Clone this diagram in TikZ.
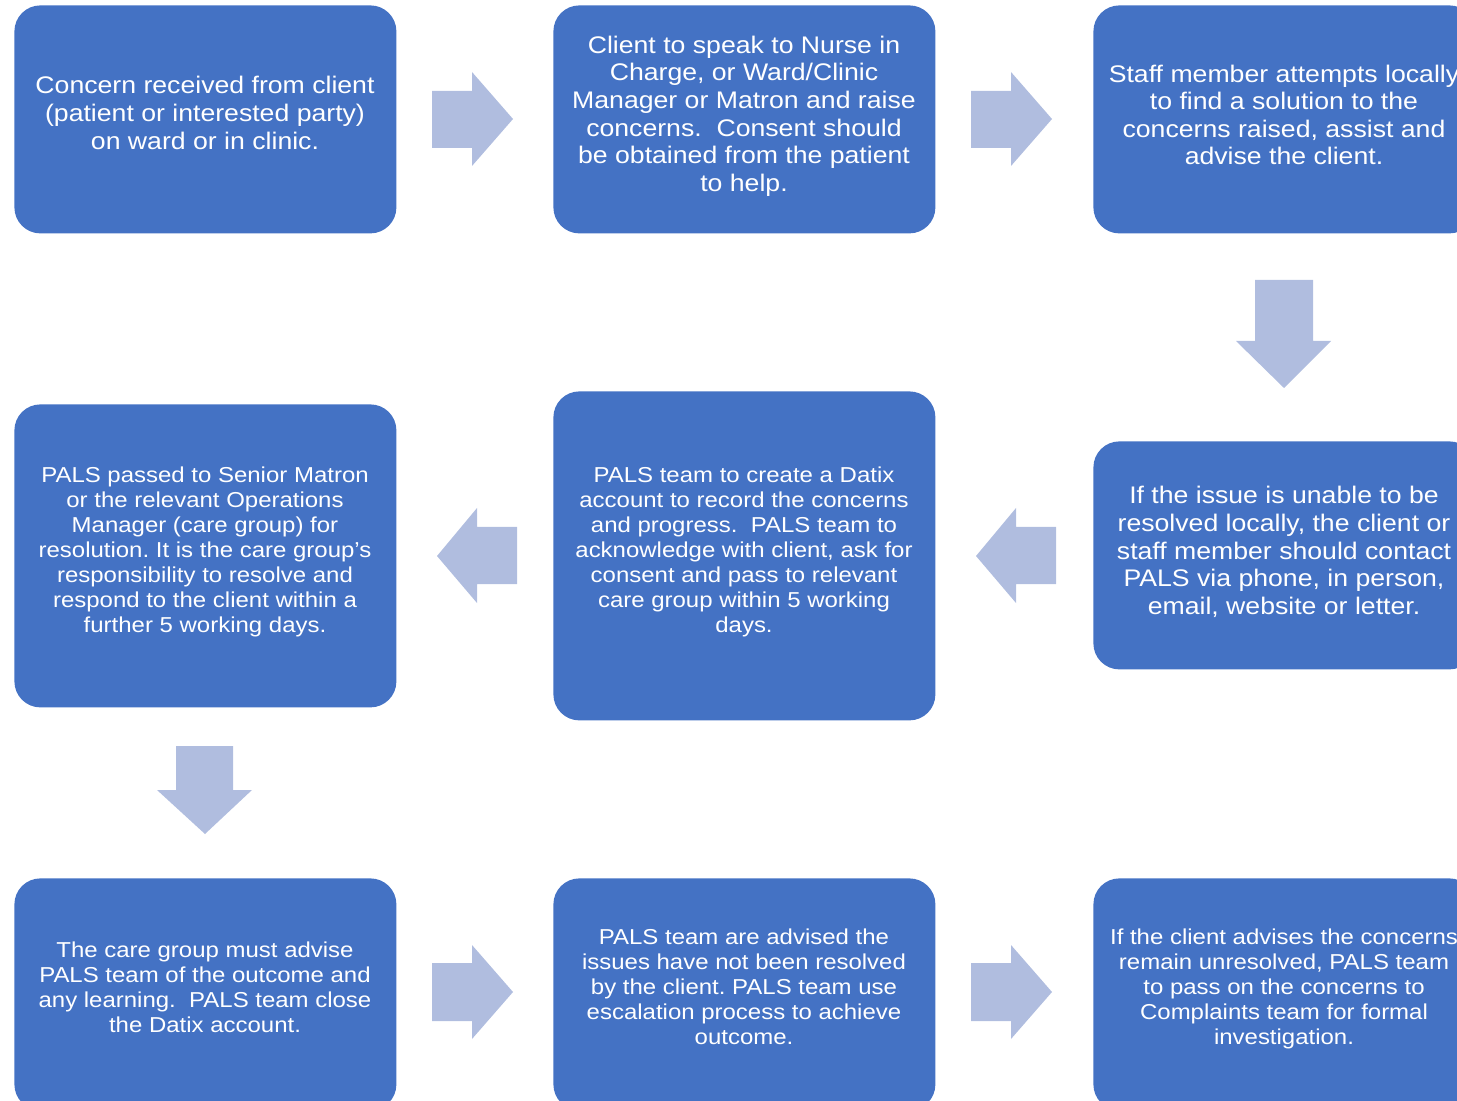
\documentclass[tikz,border=0pt]{standalone}
\usepackage{fontspec}
\setmainfont{Liberation Sans}[FakeStretch=1.11]
\definecolor{boxc}{RGB}{68,114,196}
\definecolor{arrowc}{RGB}{176,189,223}
\tikzset{
  stepbox/.style={fill=boxc, draw=none, rounded corners=13pt, minimum width=191pt, inner sep=0pt, anchor=north west},
  bigtext/.style={text=white, align=center, font=\frenchspacing\fontsize{12pt}{13.8pt}\selectfont, inner sep=0pt},
  smalltext/.style={text=white, align=center, font=\frenchspacing\fontsize{10.8pt}{12.45pt}\selectfont, inner sep=0pt},
  blockarrow/.style={fill=arrowc, draw=none}
}
\begin{document}
\begin{tikzpicture}[x=0.5pt,y=-0.5pt]
\useasboundingbox (0,0) rectangle (1457,1101);
% boxes
\node[stepbox, minimum height=114pt] (b1) at (14,5) {};
\node[stepbox, minimum height=114pt] (b2) at (553,5) {};
\node[stepbox, minimum height=114pt] (b3) at (1093,5) {};
\node[stepbox, minimum height=151.5pt] (b4) at (14,404) {};
\node[stepbox, minimum height=164.5pt] (b5) at (553,391) {};
\node[stepbox, minimum height=114pt] (b6) at (1093,441) {};
\node[stepbox, minimum height=116pt] (b7) at (14,878) {};
\node[stepbox, minimum height=116pt] (b8) at (553,878) {};
\node[stepbox, minimum height=116pt] (b9) at (1093,878) {};
% texts
\node[bigtext] (t1) at (205,113) {Concern received from client\\(patient or interested party)\\on ward or in clinic.};
\node[bigtext] (t2) at (744,116) {Client to speak to Nurse in\\Charge, or Ward/Clinic\\Manager or Matron and raise\\concerns.~ Consent should\\be obtained from the patient\\to help.};
\node[bigtext] (t3) at (1284,115) {Staff member attempts locally\\to find a solution to the\\concerns raised, assist and\\advise the client.};
\node[bigtext] (t6) at (1284,552) {If the issue is unable to be\\resolved locally, the client or\\staff member should contact\\PALS via phone, in person,\\email, website or letter.};
\node[smalltext] (t5) at (744,552) {PALS team to create a Datix\\account to record the concerns\\and progress.~ PALS team to\\acknowledge with client, ask for\\consent and pass to relevant\\care group within 5 working\\days.};
\node[smalltext] (t4) at (205,552) {PALS passed to Senior Matron\\or the relevant Operations\\Manager (care group) for\\resolution. It is the care group’s\\responsibility to resolve and\\respond to the client within a\\further 5 working days.};
\node[smalltext] (t7) at (205,987) {The care group must advise\\PALS team of the outcome and\\any learning.~ PALS team close\\the Datix account.};
\node[smalltext] (t8) at (744,987) {PALS team are advised the\\issues have not been resolved\\by the client. PALS team use\\escalation process to achieve\\outcome.};
\node[smalltext] (t9) at (1284,989) {If the client advises the concerns\\remain unresolved, PALS team\\to pass on the concerns to\\Complaints team for formal\\investigation.};
% block arrows
\fill[blockarrow] (432,91) -- (472,91) -- (472,72) -- (513,119) -- (472,166) -- (472,148) -- (432,148) -- cycle;
\fill[blockarrow] (971,91) -- (1011,91) -- (1011,72) -- (1052,119) -- (1011,166) -- (1011,148) -- (971,148) -- cycle;
\fill[blockarrow] (1255,280) -- (1313,280) -- (1313,341) -- (1331,341) -- (1284,388) -- (1236,341) -- (1255,341) -- cycle;
\fill[blockarrow] (517,527) -- (477,527) -- (477,508) -- (437,556) -- (477,603) -- (477,584) -- (517,584) -- cycle;
\fill[blockarrow] (1056,527) -- (1016,527) -- (1016,508) -- (976,556) -- (1016,603) -- (1016,584) -- (1056,584) -- cycle;
\fill[blockarrow] (176,746) -- (233,746) -- (233,790) -- (252,790) -- (205,834) -- (157,790) -- (176,790) -- cycle;
\fill[blockarrow] (432,963) -- (472,963) -- (472,945) -- (513,992) -- (472,1039) -- (472,1021) -- (432,1021) -- cycle;
\fill[blockarrow] (971,963) -- (1011,963) -- (1011,945) -- (1052,992) -- (1011,1039) -- (1011,1021) -- (971,1021) -- cycle;
\end{tikzpicture}
\end{document}
